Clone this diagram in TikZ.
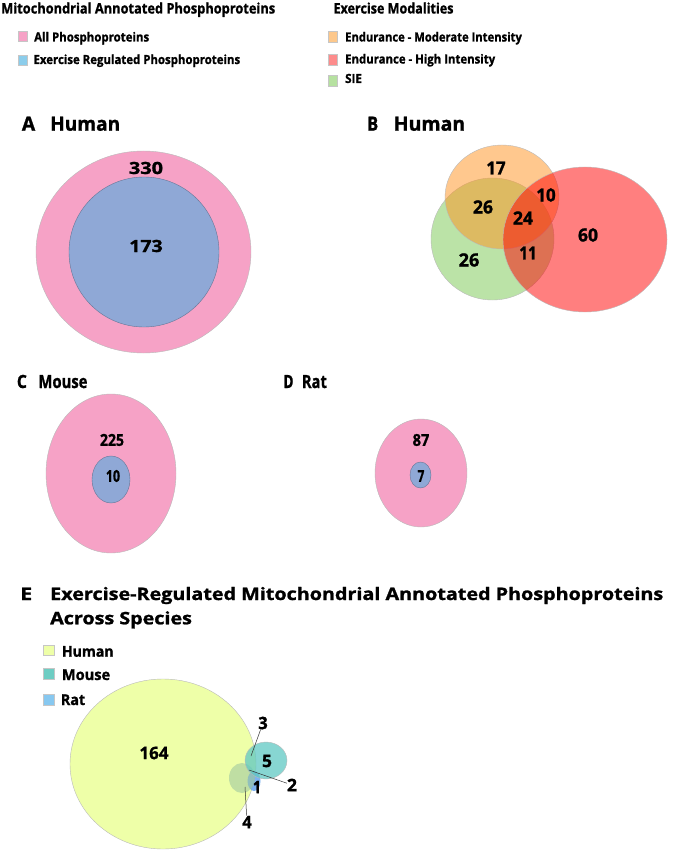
\documentclass[tikz,border=0pt]{standalone}
\usepackage{fontspec}
\usepackage{graphicx}
\setmainfont{Open Sans}[BoldFeatures={FakeBold=1.2}]
\usetikzlibrary{shapes.geometric}
\newcommand\fw[2]{\resizebox{#1}{\height}{#2}}
\definecolor{pinkA}{RGB}{246,162,198}
\definecolor{blueA}{RGB}{143,168,214}
\definecolor{legblue}{RGB}{140,205,235}
\definecolor{legorg}{RGB}{253,200,140}
\definecolor{legred}{RGB}{253,140,140}
\definecolor{leggrn}{RGB}{182,225,160}
\definecolor{orgB}{RGB}{255,145,30}
\definecolor{grnB}{RGB}{120,200,80}
\definecolor{redB}{RGB}{255,0,0}
\definecolor{yelE}{RGB}{238,255,168}
\definecolor{tealE}{RGB}{95,200,195}
\definecolor{ratE}{RGB}{110,170,240}
\definecolor{lgrnE}{RGB}{160,200,160}
\definecolor{legteal}{RGB}{110,205,195}
\definecolor{legrat}{RGB}{135,200,240}
\begin{document}
\begin{tikzpicture}[x=1pt,y=-1pt,
 ttl/.style={font=\bfseries\fontsize{14.5}{16}\selectfont, anchor=base west, inner sep=0},
 leg/.style={font=\bfseries\fontsize{12.6}{15}\selectfont, anchor=base west, inner sep=0},
 legE/.style={font=\bfseries\fontsize{15}{17}\selectfont, anchor=base west, inner sep=0},
 pan/.style={font=\bfseries\fontsize{19.6}{24}\selectfont, anchor=base west, inner sep=0},
 panC/.style={font=\bfseries\fontsize{18.2}{22}\selectfont, anchor=base west, inner sep=0},
 ttlE/.style={font=\bfseries\fontsize{17.2}{20}\selectfont, anchor=base west, inner sep=0},
 num/.style={font=\bfseries\fontsize{16.8}{20}\selectfont, inner sep=0},
 numB/.style={font=\bfseries\fontsize{18.2}{20}\selectfont, inner sep=0},
 numC/.style={font=\bfseries\fontsize{16.4}{20}\selectfont, inner sep=0},
 numE/.style={font=\bfseries\fontsize{17.2}{20}\selectfont, inner sep=0},
 sq/.style={draw=gray!45, line width=0.3pt, minimum width=9pt, minimum height=10.5pt, inner sep=0},
 blob/.style={ellipse, inner sep=0, draw=gray!55, line width=0.4pt},
 ln/.style={draw=black!80, line width=0.5pt},
]
\useasboundingbox (0,0) rectangle (676,850);
% top legends
\node[ttl] (t1) at (1,13.5) {\fw{274pt}{Mitochondrial Annotated Phosphoproteins}};
\node[ttl] (t2) at (333.3,13.5) {\fw{120pt}{Exercise Modalities}};
\node[sq, fill=pinkA] (s1) at (22.5,36) {};
\node[leg] (l1) at (34,41.5) {\fw{115pt}{All Phosphoproteins}};
\node[sq, fill=legblue] (s2) at (22.5,60) {};
\node[leg] (l2) at (33.3,64) {\fw{206.7pt}{Exercise Regulated Phosphoproteins}};
\node[sq, fill=legorg] (s3) at (332.5,36.5) {};
\node[leg] (l3) at (345,41.5) {\fw{176.7pt}{Endurance - Moderate Intensity}};
\node[sq, fill=legred] (s4) at (332.5,59.5) {};
\node[leg] (l4) at (345,63.5) {\fw{150pt}{Endurance - High Intensity}};
\node[sq, fill=leggrn] (s5) at (332.5,80.5) {};
\node[leg] (l5) at (345,83) {\fw{16.7pt}{SIE}};
% panel A
\node[pan] (pA) at (21.7,130.7) {\fw{13.3pt}{A}};
\node[pan] (pAh) at (50,130.7) {\fw{70pt}{Human}};
\node[blob, fill=pinkA, minimum width=215, minimum height=202] (a1) at (143.5,252) {};
\node[blob, fill=blueA, draw=blueA!70!black, minimum width=150, minimum height=150] (a2) at (144,252) {};
\node[num] (n330) at (146,168) {\fw{34pt}{330}};
\node[num] (n173) at (146,246) {\fw{33.3pt}{173}};
% panel B
\node[pan] (pB) at (367,130.7) {\fw{11pt}{B}};
\node[pan] (pBh) at (393.5,130.7) {\fw{71.5pt}{Human}};
\node[blob, fill=grnB, fill opacity=0.5, minimum width=123, minimum height=122] (bg) at (492.5,239) {};
\node[blob, fill=orgB, fill opacity=0.5, minimum width=114, minimum height=104] (bo) at (502,197) {};
\node[blob, fill=redB, fill opacity=0.5, minimum width=164, minimum height=145] (br) at (585,239.5) {};
\node[numB] (b17) at (496,168) {\fw{19.3pt}{17}};
\node[numB] (b26a) at (483,207) {\fw{20pt}{26}};
\node[numB] (b10) at (546,195) {\fw{19.3pt}{10}};
\node[numB] (b24) at (523,218) {\fw{20pt}{24}};
\node[numB] (b60) at (588,235) {\fw{20pt}{60}};
\node[numB] (b26b) at (469,260) {\fw{20.7pt}{26}};
\node[numB] (b11) at (528,253) {\fw{17.3pt}{11}};
% panel C
\node[panC] (pC) at (16.7,388) {\fw{10pt}{C}};
\node[panC] (pCm) at (38.3,388) {\fw{49pt}{Mouse}};
\node[blob, fill=pinkA, minimum width=130, minimum height=159] (c1) at (111,473.5) {};
\node[blob, fill=blueA, draw=blueA!70!black, minimum width=38, minimum height=47] (c2) at (111,479.5) {};
\node[numC] (c225) at (112,440) {\fw{24pt}{225}};
\node[numC] (c10) at (113,476) {\fw{14pt}{10}};
% panel D
\node[panC] (pD) at (283.3,388) {\fw{10pt}{D}};
\node[panC] (pDr) at (301.7,388) {\fw{25pt}{Rat}};
\node[blob, fill=pinkA, minimum width=92, minimum height=108] (d1) at (421,473) {};
\node[blob, fill=blueA, draw=blueA!70!black, minimum width=21, minimum height=26] (d2) at (420.5,475) {};
\node[numC] (d87) at (421,440) {\fw{16.7pt}{87}};
\node[numC] (d7) at (421,476) {\fw{6.7pt}{7}};
% panel E
\node[ttlE] (pE) at (20,600) {\fw{12pt}{E}};
\node[ttlE] (tE1) at (50,600) {\fw{613pt}{Exercise-Regulated Mitochondrial Annotated Phosphoproteins}};
\node[ttlE] (tE2) at (50,624.3) {\fw{141.7pt}{Across Species}};
\node[sq, fill=yelE, minimum width=11pt, minimum height=10.5pt] (sE1) at (48.5,650) {};
\node[legE] (lE1) at (61.7,656.7) {\fw{51.7pt}{Human}};
\node[sq, fill=legteal, minimum width=11pt, minimum height=10.5pt] (sE2) at (48.5,673.5) {};
\node[legE] (lE2) at (61.7,680) {\fw{48.3pt}{Mouse}};
\node[sq, fill=legrat, minimum width=11pt, minimum height=10.5pt] (sE3) at (48.5,699.5) {};
\node[legE] (lE3) at (60.7,705) {\fw{24.3pt}{Rat}};
\node[blob, fill=yelE, minimum width=186, minimum height=170] (eh) at (163,764) {};
\node[blob, fill=ratE, fill opacity=0.9, draw=none, minimum width=13, minimum height=20] (er) at (254,781) {};
\node[blob, fill=lgrnE, fill opacity=0.6, draw=none, minimum width=26, minimum height=30] (eg) at (242,778) {};
\node[blob, fill=tealE, fill opacity=0.75, minimum width=42, minimum height=37] (em) at (266,760.5) {};
\node[numE] (e164) at (154,753) {\fw{29pt}{164}};
\node[numE] (e5) at (267,761) {\fw{10pt}{5}};
\node[numE] (e3) at (263,723) {\fw{9.5pt}{3}};
\node[numE] (e2) at (292,785) {\fw{10pt}{2}};
\node[numE] (e1) at (257,787) {\fw{8pt}{1}};
\node[numE] (e4) at (247,822) {\fw{9.5pt}{4}};
\coordinate (k3) at (251,756);
\coordinate (k2) at (249,770);
\coordinate (k4) at (245,787);
\draw[ln] (e3) -- (k3);
\draw[ln] (e2) -- (k2);
\draw[ln] (e4) -- (k4);
\end{tikzpicture}
\end{document}
